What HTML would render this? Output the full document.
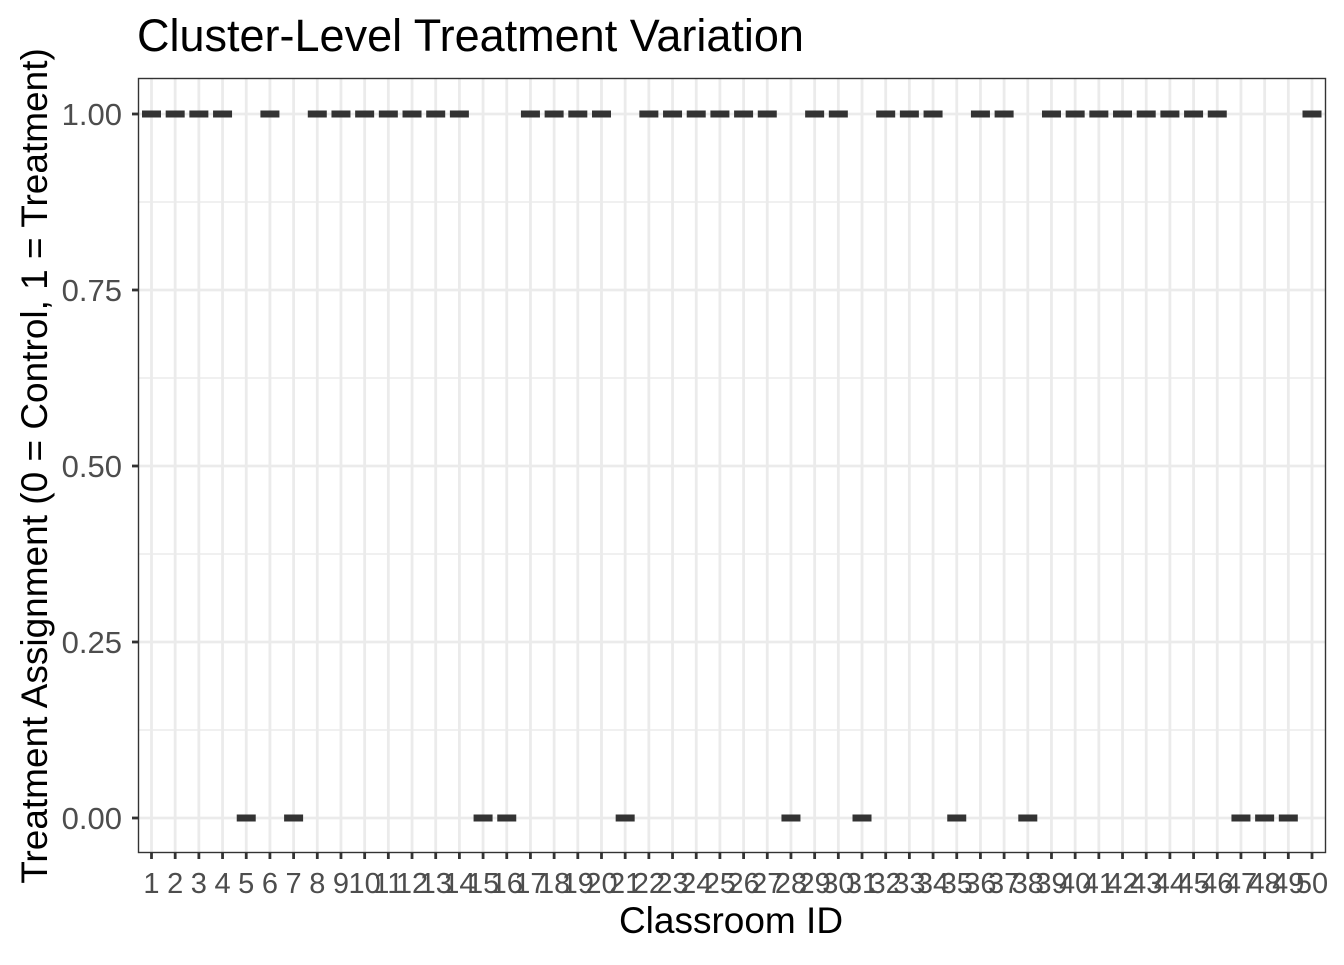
<!DOCTYPE html>
<html><head><meta charset="utf-8"><style>body{margin:0;background:#fff}</style></head><body>
<svg width="1344" height="960" xmlns="http://www.w3.org/2000/svg" font-family="Liberation Sans, Arial, sans-serif">
<rect width="1344" height="960" fill="#fff"/>
<g id="grid"></g>
<g id="dat"></g>
<rect x="138.5" y="78.5" width="1187" height="774" fill="none" stroke="#333" stroke-width="1.4"/>
<g id="ax"></g>
<text x="137" y="51" font-size="45" fill="#000">Cluster-Level Treatment Variation</text>
<text x="731" y="933" font-size="37" text-anchor="middle" fill="#000">Classroom ID</text>
<text transform="translate(47,466) rotate(-90)" font-size="37" text-anchor="middle" fill="#000">Treatment Assignment (0 = Control, 1 = Treatment)</text>
<script>
const ns="http://www.w3.org/2000/svg";
function el(p,t,a,txt){const e=document.createElementNS(ns,t);for(const k in a)e.setAttribute(k,a[k]);if(txt!==undefined)e.textContent=txt;document.getElementById(p).appendChild(e);}
const x0=151.5,dx=(1312-151.5)/49;
const yv=v=>818-v*704;
[0.125,0.375,0.625,0.875].forEach(v=>el('grid','line',{x1:138,x2:1325,y1:yv(v),y2:yv(v),stroke:'#ebebeb','stroke-width':1.4}));
[0,0.25,0.5,0.75,1].forEach(v=>{el('grid','line',{x1:138,x2:1325,y1:yv(v),y2:yv(v),stroke:'#ebebeb','stroke-width':2.8});
el('ax','line',{x1:132,x2:138,y1:yv(v),y2:yv(v),stroke:'#333','stroke-width':2.8});
el('ax','text',{x:122,y:yv(v)+11,'font-size':31,'text-anchor':'end',fill:'#4d4d4d'},v.toFixed(2));});
const zeros=[5,7,15,16,21,28,31,35,38,47,48,49];
for(let i=1;i<=50;i++){const x=x0+(i-1)*dx;
el('grid','line',{x1:x,x2:x,y1:78,y2:852,stroke:'#ebebeb','stroke-width':2.8});
el('ax','line',{x1:x,x2:x,y1:852,y2:859,stroke:'#333','stroke-width':2.8});
el('ax','text',{x:x,y:893,'font-size':29,'text-anchor':'middle',fill:'#4d4d4d'},String(i));
const v=zeros.includes(i)?0:1;
el('dat','rect',{x:x-9.5,y:yv(v)-3.5,width:19,height:7,fill:'#333'});}
</script>
</svg>
</body></html>
